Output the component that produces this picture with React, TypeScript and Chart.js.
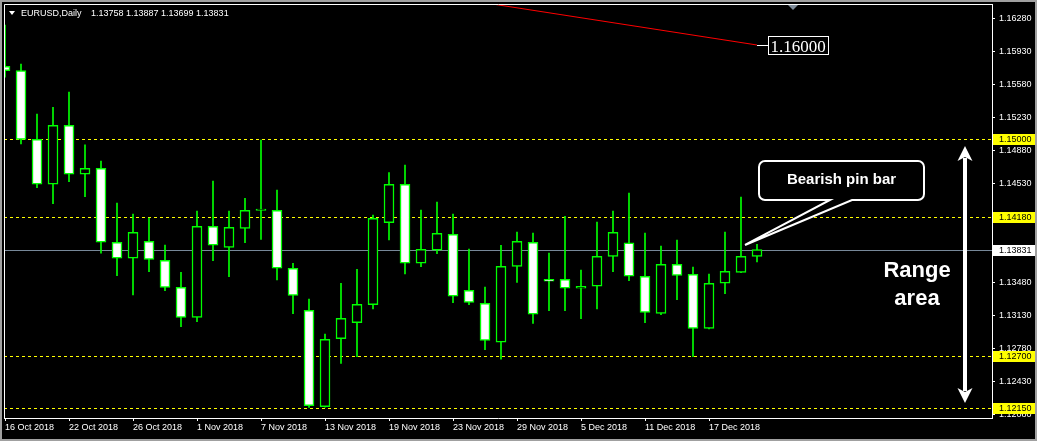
import React, { useEffect, useRef } from "react";
import { Chart, registerables } from "chart.js";

Chart.register(...registerables);

// ---------------- data ----------------
const dates: string[] = [
  "16 Oct 2018", "17 Oct 2018", "18 Oct 2018", "19 Oct 2018",
  "22 Oct 2018", "23 Oct 2018", "24 Oct 2018", "25 Oct 2018", "26 Oct 2018",
  "29 Oct 2018", "30 Oct 2018", "31 Oct 2018", "1 Nov 2018", "2 Nov 2018",
  "5 Nov 2018", "6 Nov 2018", "7 Nov 2018", "8 Nov 2018", "9 Nov 2018",
  "12 Nov 2018", "13 Nov 2018", "14 Nov 2018", "15 Nov 2018", "16 Nov 2018",
  "19 Nov 2018", "20 Nov 2018", "21 Nov 2018", "22 Nov 2018", "23 Nov 2018",
  "26 Nov 2018", "27 Nov 2018", "28 Nov 2018", "29 Nov 2018", "30 Nov 2018",
  "3 Dec 2018", "4 Dec 2018", "5 Dec 2018", "6 Dec 2018", "7 Dec 2018",
  "10 Dec 2018", "11 Dec 2018", "12 Dec 2018", "13 Dec 2018", "14 Dec 2018",
  "17 Dec 2018", "18 Dec 2018", "19 Dec 2018", "20 Dec 2018",
];

const opens: number[] = [
  1.15774, 1.15728, 1.15000, 1.14523, 1.15148, 1.14629, 1.14692, 1.13908,
  1.13738, 1.13918, 1.13717, 1.13430, 1.13110, 1.14077, 1.13854, 1.14056,
  1.14245, 1.14247, 1.13632, 1.13186, 1.12164, 1.12885, 1.13055, 1.13246,
  1.14115, 1.14523, 1.13685, 1.13823, 1.13992, 1.13398, 1.13260, 1.12847,
  1.13653, 1.13908, 1.13515, 1.13515, 1.13420, 1.13441, 1.13759, 1.13903,
  1.13547, 1.13154, 1.13674, 1.13568, 1.12995, 1.13473, 1.13589, 1.13758,
];
const highs: number[] = [
  1.16212, 1.15799, 1.15268, 1.15339, 1.15502, 1.14940, 1.14770, 1.14324,
  1.14208, 1.14165, 1.13879, 1.13589, 1.14239, 1.14558, 1.14239, 1.14374,
  1.14992, 1.14462, 1.13685, 1.13306, 1.12935, 1.13473, 1.13621, 1.14197,
  1.14646, 1.14727, 1.14250, 1.14335, 1.14208, 1.13836, 1.13433, 1.13876,
  1.14017, 1.14006, 1.13794, 1.14183, 1.13614, 1.14123, 1.14239, 1.14430,
  1.14006, 1.13868, 1.13932, 1.13645, 1.13571, 1.14017, 1.14388, 1.13887,
];
const lows: number[] = [
  1.15658, 1.14950, 1.14487, 1.14317, 1.14550, 1.14391, 1.13791, 1.13553,
  1.13349, 1.13596, 1.13394, 1.13012, 1.13065, 1.13712, 1.13543, 1.13903,
  1.13939, 1.13508, 1.13150, 1.12157, 1.12160, 1.12624, 1.12694, 1.13200,
  1.13932, 1.13571, 1.13649, 1.13787, 1.13267, 1.13246, 1.12768, 1.12667,
  1.13483, 1.13048, 1.13182, 1.13182, 1.13097, 1.13200, 1.13596, 1.13500,
  1.13055, 1.13140, 1.13299, 1.12694, 1.12990, 1.13362, 1.13585, 1.13699,
];
const closes: number[] = [
  1.15728, 1.15000, 1.14523, 1.15148, 1.14629, 1.14692, 1.13908, 1.13738,
  1.14014, 1.13727, 1.13430, 1.13112, 1.14077, 1.13876, 1.14067, 1.14247,
  1.14261, 1.13632, 1.13345, 1.12174, 1.12879, 1.13101, 1.13250, 1.14162,
  1.14523, 1.13685, 1.13833, 1.14003, 1.13335, 1.13271, 1.12868, 1.13653,
  1.13918, 1.13144, 1.13494, 1.13420, 1.13441, 1.13759, 1.14014, 1.13547,
  1.13165, 1.13674, 1.13557, 1.12995, 1.13473, 1.13600, 1.13759, 1.13831,
];

const yTickValues: number[] = [
  1.1628, 1.1593, 1.1558, 1.1523, 1.1488, 1.1453, 1.1418,
  1.1383, 1.1348, 1.1313, 1.1278, 1.1243, 1.1208,
];
const xLabelStep = 4;
const yMin = 1.12044;
const yMax = 1.16435;
const xMin = -0.0625;
const xMax = 61.6875;

const levelLines: number[] = [1.15, 1.1418, 1.127, 1.1215];
const bidPrice = 1.13831;

const trendX: number[] = [30, 47];
const trendY: number[] = [1.16447, 1.16];
const trendLabel = "1.16000";

const symbolHeader = "EURUSD,Daily";
const calloutText = "Bearish pin bar";
const calloutBar = 46;
const calloutPrice = 1.13879;
const rangeText: string[] = ["Range", "area"];
const rangeX = 60;
const rangeTop = 1.14929;
const rangeBottom = 1.12203;
const shiftMarkerX = 49.25;

// ---------------- styles ----------------
const GREEN = "#00ff00";
const YELLOW = "#ffff00";
const BID = "#778899";
const FONT = "'Liberation Sans', Arial, sans-serif";

const overlayPlugin = {
  id: "mt4overlay",
  beforeDraw(chart: any) {
    const ctx = chart.ctx as CanvasRenderingContext2D;
    ctx.save();
    ctx.fillStyle = "#000000";
    ctx.fillRect(0, 0, chart.width, chart.height);
    ctx.restore();
  },
  beforeDatasetsDraw(chart: any) {
    const ctx = chart.ctx as CanvasRenderingContext2D;
    const a = chart.chartArea;
    const ys = chart.scales.y;
    ctx.save();
    ctx.lineWidth = 1;
    ctx.strokeStyle = YELLOW;
    ctx.setLineDash([3, 3]);
    levelLines.forEach((p) => {
      const y = Math.round(ys.getPixelForValue(p)) + 0.5;
      ctx.beginPath();
      ctx.moveTo(a.left, y);
      ctx.lineTo(a.right, y);
      ctx.stroke();
    });
    ctx.setLineDash([]);
    ctx.strokeStyle = BID;
    const by = Math.round(ys.getPixelForValue(bidPrice)) + 0.5;
    ctx.beginPath();
    ctx.moveTo(a.left, by);
    ctx.lineTo(a.right, by);
    ctx.stroke();
    ctx.restore();
  },
  afterDatasetsDraw(chart: any) {
    const ctx = chart.ctx as CanvasRenderingContext2D;
    const a = chart.chartArea;
    const xs = chart.scales.x;
    const ys = chart.scales.y;
    ctx.save();

    // frame top/left
    ctx.strokeStyle = "#ffffff";
    ctx.lineWidth = 1;
    ctx.beginPath();
    ctx.moveTo(a.left + 0.5, a.bottom);
    ctx.lineTo(a.left + 0.5, a.top + 0.5);
    ctx.lineTo(a.right, a.top + 0.5);
    ctx.stroke();

    // header
    ctx.fillStyle = "#ffffff";
    ctx.beginPath();
    ctx.moveTo(9, 11);
    ctx.lineTo(15, 11);
    ctx.lineTo(12, 15);
    ctx.closePath();
    ctx.fill();
    ctx.font = `9px ${FONT}`;
    ctx.textBaseline = "alphabetic";
    ctx.textAlign = "left";
    ctx.fillText(symbolHeader, 21, 16);
    const li = opens.length - 1;
    const ohlc = [opens[li], highs[li], lows[li], closes[li]].map((v) => v.toFixed(5)).join(" ");
    ctx.fillText(ohlc, 91, 16);

    // chart shift marker
    const sx = xs.getPixelForValue(shiftMarkerX);
    ctx.fillStyle = "#7f8c9a";
    ctx.beginPath();
    ctx.moveTo(sx - 5, a.top + 1);
    ctx.lineTo(sx + 5, a.top + 1);
    ctx.lineTo(sx, a.top + 6);
    ctx.closePath();
    ctx.fill();

    // trend label
    const ex = xs.getPixelForValue(trendX[trendX.length - 1]);
    const ey = Math.round(ys.getPixelForValue(trendY[trendY.length - 1])) + 0.5;
    ctx.strokeStyle = "#ffffff";
    ctx.lineWidth = 1;
    ctx.beginPath();
    ctx.moveTo(ex, ey);
    ctx.lineTo(ex + 11, ey);
    ctx.stroke();
    const bx = Math.round(ex + 11) + 0.5;
    ctx.fillStyle = "#000000";
    ctx.fillRect(bx, ey - 9, 60, 18);
    ctx.strokeRect(bx, ey - 9, 60, 18);
    ctx.fillStyle = "#ffffff";
    ctx.font = "17px 'Liberation Serif', 'Times New Roman', serif";
    ctx.fillText(trendLabel, bx + 2, ey + 6.5);

    // callout
    const tipX = xs.getPixelForValue(calloutBar) + 4;
    const tipY = ys.getPixelForValue(calloutPrice);
    const L = tipX + 14, T = tipY - 84, W = 165, H = 39, R = 6;
    const Rt = L + W, B = T + H;
    const p0 = tipX + 85, p1 = tipX + 107;
    ctx.beginPath();
    ctx.moveTo(L + R, T);
    ctx.lineTo(Rt - R, T);
    ctx.arcTo(Rt, T, Rt, T + R, R);
    ctx.lineTo(Rt, B - R);
    ctx.arcTo(Rt, B, Rt - R, B, R);
    ctx.lineTo(p1, B);
    ctx.lineTo(tipX, tipY);
    ctx.lineTo(p0, B);
    ctx.lineTo(L + R, B);
    ctx.arcTo(L, B, L, B - R, R);
    ctx.lineTo(L, T + R);
    ctx.arcTo(L, T, L + R, T, R);
    ctx.closePath();
    ctx.fillStyle = "#000000";
    ctx.fill();
    ctx.strokeStyle = "#ffffff";
    ctx.lineWidth = 2;
    ctx.lineJoin = "miter";
    ctx.stroke();
    ctx.fillStyle = "#ffffff";
    ctx.font = `bold 15px ${FONT}`;
    ctx.textAlign = "center";
    ctx.fillText(calloutText, L + W / 2, T + 23.5);

    // range arrow
    const ax = xs.getPixelForValue(rangeX);
    const ty = ys.getPixelForValue(rangeTop);
    const byy = ys.getPixelForValue(rangeBottom);
    ctx.fillStyle = "#ffffff";
    ctx.fillRect(ax - 2, ty + 12, 4, byy - ty - 24);
    ctx.beginPath();
    ctx.moveTo(ax, ty);
    ctx.lineTo(ax + 7.5, ty + 15);
    ctx.lineTo(ax, ty + 11);
    ctx.lineTo(ax - 7.5, ty + 15);
    ctx.closePath();
    ctx.fill();
    ctx.beginPath();
    ctx.moveTo(ax, byy);
    ctx.lineTo(ax + 7.5, byy - 15);
    ctx.lineTo(ax, byy - 11);
    ctx.lineTo(ax - 7.5, byy - 15);
    ctx.closePath();
    ctx.fill();

    const mid = (ty + byy) / 2;
    ctx.font = `bold 22px ${FONT}`;
    ctx.textAlign = "center";
    ctx.fillText(rangeText[0], ax - 48, mid + 2.5);
    ctx.fillText(rangeText[1], ax - 48, mid + 30.5);

    ctx.restore();
  },
  afterDraw(chart: any) {
    const ctx = chart.ctx as CanvasRenderingContext2D;
    const a = chart.chartArea;
    const ys = chart.scales.y;
    ctx.save();
    ctx.font = `9px ${FONT}`;
    ctx.textAlign = "left";
    ctx.textBaseline = "middle";
    const drawBox = (p: number, bg: string) => {
      const y = Math.round(ys.getPixelForValue(p));
      ctx.fillStyle = bg;
      ctx.fillRect(a.right + 1, y - 5, chart.width - a.right - 1, 11);
      ctx.fillStyle = "#000000";
      ctx.fillText(p.toFixed(5), a.right + 7, y + 0.5);
    };
    levelLines.forEach((p) => drawBox(p, YELLOW));
    drawBox(bidPrice, "#ffffff");

    // window border
    ctx.fillStyle = "#a0a0a0";
    ctx.fillRect(0, 0, chart.width, 2);
    ctx.fillRect(0, 0, 2, chart.height);
    ctx.fillRect(chart.width - 2, 0, 2, chart.height);
    ctx.fillRect(0, chart.height - 2, chart.width, 2);
    ctx.restore();
  },
};

export default function App() {
  const ref = useRef<HTMLCanvasElement | null>(null);

  useEffect(() => {
    document.body.style.margin = "0";
    document.body.style.background = "#000000";
    const canvas = ref.current;
    if (!canvas) return;
    const idx = dates.map((_, i) => i);

    const chart = new Chart(canvas, {
      type: "bar",
      data: {
        datasets: [
          {
            type: "bar",
            label: "body",
            data: idx.map((i) => ({ x: i, y: [opens[i], closes[i]] })) as any,
            backgroundColor: idx.map((i) => (closes[i] < opens[i] ? "#ffffff" : "#000000")),
            borderColor: GREEN,
            borderWidth: 1.5,
            borderSkipped: false,
            barThickness: 10,
            grouped: false,
            order: 0,
          } as any,
          {
            type: "bar",
            label: "wick",
            data: idx.map((i) => ({ x: i, y: [lows[i], highs[i]] })) as any,
            backgroundColor: GREEN,
            borderWidth: 0,
            barThickness: 1,
            grouped: false,
            order: 1,
          } as any,
          {
            type: "line",
            label: "trend",
            data: trendX.map((x, i) => ({ x, y: trendY[i] })) as any,
            borderColor: "#ff0000",
            borderWidth: 1,
            pointRadius: 0,
            fill: false,
            order: 2,
          } as any,
        ],
      },
      options: {
        responsive: false,
        maintainAspectRatio: false,
        devicePixelRatio: 1,
        animation: false,
        events: [],
        layout: { padding: { left: 4, top: 4, right: 0, bottom: 0 } },
        plugins: {
          legend: { display: false },
          tooltip: { enabled: false },
          title: { display: false },
        },
        scales: {
          x: {
            type: "linear",
            position: "bottom",
            min: xMin,
            max: xMax,
            offset: false,
            grid: {
              display: true,
              drawOnChartArea: false,
              drawTicks: true,
              tickLength: 3,
              color: "#ffffff",
              offset: false,
            },
            border: { display: true, color: "#ffffff", width: 1 },
            ticks: {
              autoSkip: false,
              maxRotation: 0,
              minRotation: 0,
              align: "start",
              padding: 1,
              color: "#ffffff",
              font: { family: FONT, size: 9 },
              callback: (v: any) => dates[Math.round(Number(v))] ?? "",
            },
            afterBuildTicks: (s: any) => {
              s.ticks = idx.filter((i) => i % xLabelStep === 0).map((v) => ({ value: v }));
            },
            afterFit: (s: any) => {
              s.height = 23;
              s.paddingLeft = 0;
              s.paddingRight = 0;
            },
          } as any,
          y: {
            type: "linear",
            position: "right",
            min: yMin,
            max: yMax,
            grid: {
              display: true,
              drawOnChartArea: false,
              drawTicks: true,
              tickLength: 3,
              color: "#ffffff",
            },
            border: { display: true, color: "#ffffff", width: 1 },
            ticks: {
              autoSkip: false,
              padding: 4,
              color: "#ffffff",
              font: { family: FONT, size: 9 },
              callback: (v: any) => Number(v).toFixed(5),
            },
            afterBuildTicks: (s: any) => {
              s.ticks = yTickValues.map((v) => ({ value: v }));
            },
            afterFit: (s: any) => {
              s.width = 45;
              s.paddingTop = 0;
              s.paddingBottom = 0;
            },
          } as any,
        },
      } as any,
      plugins: [overlayPlugin as any],
    });

    return () => chart.destroy();
  }, []);

  return (
    <div style={{ width: 1037, height: 441, background: "#000" }}>
      <canvas ref={ref} width={1037} height={441} style={{ display: "block", width: 1037, height: 441 }} />
    </div>
  );
}
